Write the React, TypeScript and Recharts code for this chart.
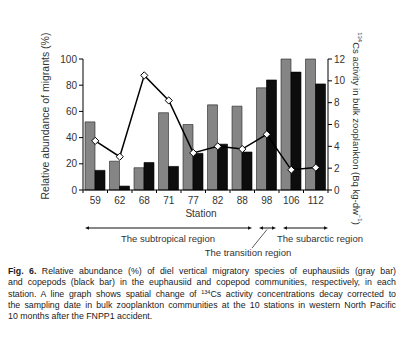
import React from "react";
import { Bar, ComposedChart, Line, XAxis, YAxis } from "recharts";

const stations = ["59", "62", "68", "71", "77", "82", "88", "98", "106", "112"];
const euphausiids = [52, 22, 17, 59, 50, 65, 64, 78, 100, 100];
const copepods = [15, 3, 21, 18, 28, 35, 29, 84, 90, 81];
const cesium = [4.5, 3.05, 10.5, 8.2, 3.4, 4.0, 3.75, 5.1, 1.85, 2.05];

const leftTicks = [0, 20, 40, 60, 80, 100];
const rightTicks = [0, 2, 4, 6, 8, 10, 12];

const data = stations.map((s, i) => ({
  station: s,
  euphausiids: euphausiids[i],
  copepods: copepods[i],
  cesium: cesium[i],
}));

const FONT = "'Liberation Sans', Arial, sans-serif";
const tick = { fontSize: 10, fill: "#333", fontFamily: FONT };

const Diamond = (props: any) => {
  const { cx, cy } = props;
  if (cx == null || cy == null) return null;
  const r = 3.6;
  return (
    <path
      d={`M${cx},${cy - r}L${cx + r},${cy}L${cx},${cy + r}L${cx - r},${cy}Z`}
      fill="#fff"
      stroke="#000"
      strokeWidth={1}
    />
  );
};

// category label plus a small tick at the band boundaries
const StationTick = (props: any) => {
  const { x, y, payload, index } = props;
  const half = 12.25;
  const axisY = y - 8;
  return (
    <g>
      {index === 0 && <line x1={x - half} x2={x - half} y1={axisY} y2={axisY + 3} stroke="#000" />}
      <line x1={x + half} x2={x + half} y1={axisY} y2={axisY + 3} stroke="#000" />
      <text x={x} y={y + 2} textAnchor="middle" dominantBaseline="central" fontSize={10} fill="#333" fontFamily={FONT}>
        {payload.value}
      </text>
    </g>
  );
};

const RightLabel = (props: any) => {
  const { viewBox } = props;
  const x = 357;
  const y = viewBox ? viewBox.y + viewBox.height / 2 + 4 : 128;
  return (
    <text
      x={x}
      y={y}
      transform={`rotate(90 ${x} ${y})`}
      textAnchor="middle"
      dominantBaseline="central"
      fontSize={9.5}
      fill="#333"
      fontFamily={FONT}
    >
      <tspan fontSize={6} dy={-3}>134</tspan>
      <tspan dy={3}>Cs activity in bulk zooplankton (Bq kg-dw</tspan>
      <tspan fontSize={6} dy={-3}>−1</tspan>
      <tspan dy={3}>)</tspan>
    </text>
  );
};

function Arrow({ x1, x2, y }: { x1: number; x2: number; y: number }) {
  return (
    <g stroke="#111" fill="#111">
      <line x1={x1 + 3} x2={x2 - 3} y1={y} y2={y} strokeWidth={1} />
      <path d={`M${x1},${y}l4,-1.8v3.6z`} stroke="none" />
      <path d={`M${x2},${y}l-4,-1.8v3.6z`} stroke="none" />
    </g>
  );
}

const lineStyle: React.CSSProperties = {
  textAlign: "justify",
  textAlignLast: "justify",
  whiteSpace: "nowrap",
};

export default function App() {
  return (
    <div style={{ position: "absolute", left: 0, top: 0, width: 402, height: 355, background: "#fff" }}>
      <ComposedChart
        width={402}
        height={260}
        data={data}
        margin={{ top: 59, right: 24, bottom: 50, left: 33 }}
        barGap={0}
      >
        <XAxis
          dataKey="station"
          tick={<StationTick />}
          tickLine={false}
          axisLine={{ stroke: "#000" }}
          height={20}
          interval={0}
        />
        <YAxis
          yAxisId="left"
          domain={[0, 100]}
          ticks={leftTicks}
          tick={tick}
          tickSize={4}
          axisLine={{ stroke: "#000" }}
          tickLine={{ stroke: "#000" }}
          width={50}
          label={{
            value: "Relative abundance of migrants (%)",
            angle: -90,
            position: "insideLeft",
            offset: 12,
            dy: 75,
            style: { fontSize: 10.5, fill: "#333", fontFamily: FONT },
          }}
        />
        <YAxis
          yAxisId="right"
          orientation="right"
          domain={[0, 12]}
          ticks={rightTicks}
          tick={tick}
          tickSize={4}
          axisLine={{ stroke: "#000" }}
          tickLine={{ stroke: "#000" }}
          width={50}
          label={<RightLabel />}
        />
        <Bar
          yAxisId="left"
          dataKey="euphausiids"
          barSize={10}
          fill="#858585"
          stroke="#222"
          strokeWidth={0.6}
          isAnimationActive={false}
        />
        <Bar
          yAxisId="left"
          dataKey="copepods"
          barSize={10}
          fill="#0d0d0d"
          stroke="#000"
          strokeWidth={0.6}
          isAnimationActive={false}
        />
        <Line
          yAxisId="right"
          dataKey="cesium"
          stroke="#000"
          strokeWidth={1.5}
          dot={<Diamond />}
          activeDot={false}
          isAnimationActive={false}
        />
      </ComposedChart>
      <svg
        width={402}
        height={260}
        style={{ position: "absolute", left: 0, top: 0, pointerEvents: "none" }}
        fontFamily={FONT}
      >
        <text x={201} y={213} textAnchor="middle" dominantBaseline="central" fontSize={10} fill="#333">
          Station
        </text>
        <Arrow x1={85} x2={252} y={228} />
        <Arrow x1={259} x2={276} y={228} />
        <Arrow x1={283} x2={328} y={228} />
        <line x1={252} y1={248} x2={267} y2={229.5} stroke="#333" strokeWidth={0.8} />
        <text x={168} y={238} textAnchor="middle" dominantBaseline="central" fontSize={9.5} fill="#333">
          The subtropical region
        </text>
        <text x={248} y={252} textAnchor="middle" dominantBaseline="central" fontSize={9.5} fill="#333">
          The transition region
        </text>
        <text x={320} y={238} textAnchor="middle" dominantBaseline="central" fontSize={9.5} fill="#333">
          The subarctic region
        </text>
      </svg>
      <div
        style={{
          position: "absolute",
          left: 8,
          top: 266,
          width: 388,
          fontFamily: FONT,
          fontSize: 8.8,
          lineHeight: "11.3px",
          color: "#1a1a1a",
        }}
      >
        <div style={lineStyle}>
          <b>Fig. 6.</b> Relative abundance (%) of diel vertical migratory species of euphausiids (gray bar)
        </div>
        <div style={lineStyle}>
          and copepods (black bar) in the euphausiid and copepod communities, respectively, in each
        </div>
        <div style={lineStyle}>
          station. A line graph shows spatial change of <sup style={{ fontSize: 5.5, verticalAlign: "3px", lineHeight: 0 }}>134</sup>Cs activity concentrations decay corrected to
        </div>
        <div style={lineStyle}>
          the sampling date in bulk zooplankton communities at the 10 stations in western North Pacific
        </div>
        <div style={{ whiteSpace: "nowrap" }}>10 months after the FNPP1 accident.</div>
      </div>
    </div>
  );
}
